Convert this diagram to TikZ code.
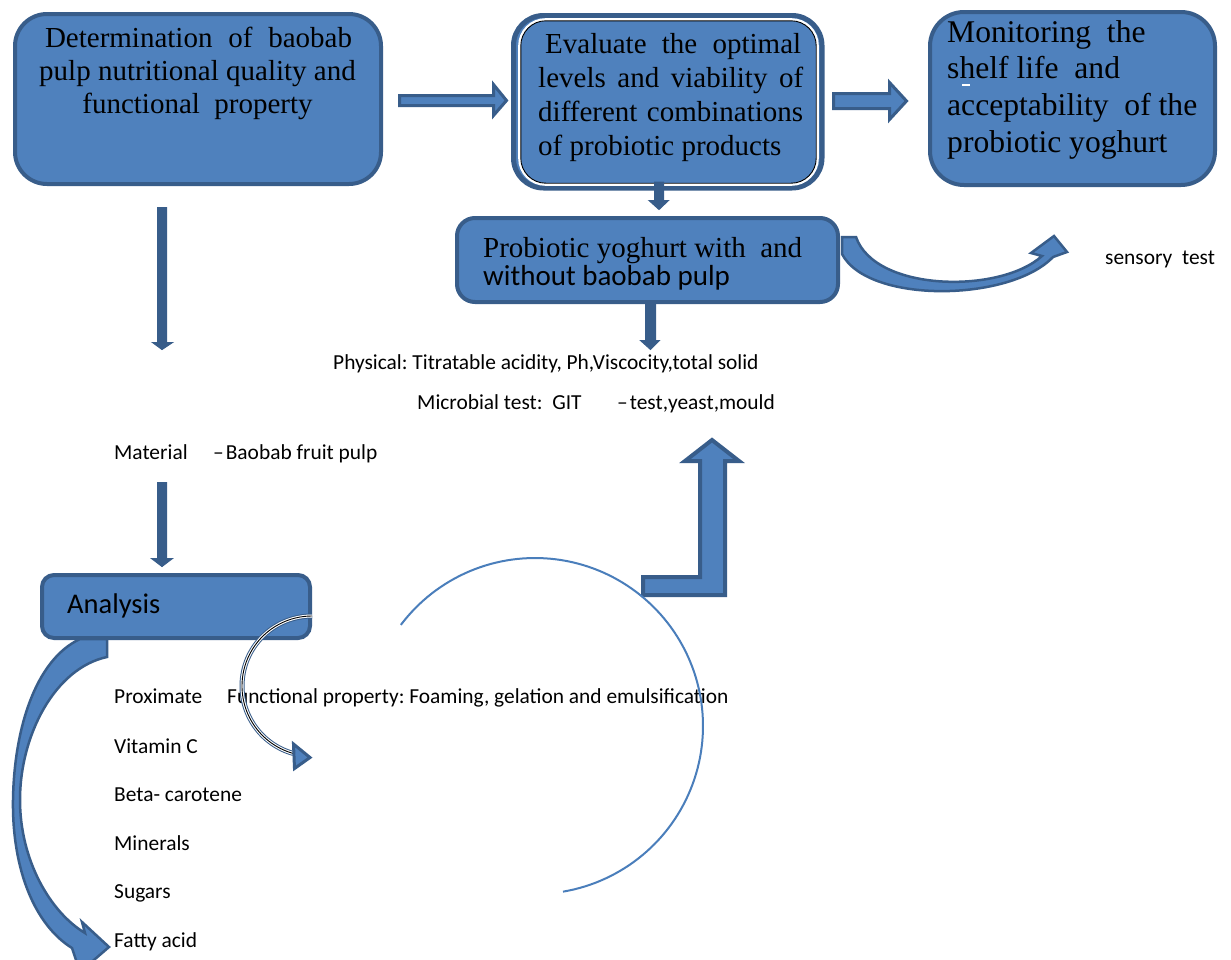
\documentclass[tikz,border=0pt]{standalone}
\usepackage{fontspec}
\setmainfont{Liberation Serif}
\newfontfamily\sansC{Carlito}
\newfontfamily\serifW{Liberation Serif}
\definecolor{pfill}{HTML}{4F81BD}
\definecolor{pline}{HTML}{385D8A}
\definecolor{arcblue}{HTML}{4A7EBB}
\tikzset{
  box/.style={draw=pline, fill=pfill, line width=4pt, rounded corners=#1, inner sep=0pt},
  box/.default=30pt,
  barrow/.style={draw=pline, fill=pfill, line width=3pt, line join=miter},
  darrow/.style={draw=pline, fill=pline, line width=1pt, line join=miter},
  small/.style={font=\sansC\fontsize{21.4}{25}\selectfont\frenchspacing, anchor=base west, inner sep=0pt},
  big/.style={font=\serifW\fontsize{29}{33}\selectfont, inner sep=0pt},
  bigger/.style={font=\serifW\fontsize{31.6}{37}\selectfont, inner sep=0pt, anchor=base west},
}
\begin{document}
\begin{tikzpicture}[x=1pt,y=-1pt]
\useasboundingbox[fill=white] (0,0) rectangle (1231,959);

% ---------- boxes ----------
\node[box=32pt, minimum width=366pt, minimum height=170pt] (b1) at (198,99) {};
\node[box=30pt, minimum width=308.5pt, minimum height=172.5pt, line width=5pt] (b2) at (667.75,101.75) {};
\draw[white, line width=2.6pt, rounded corners=26pt] (519.5,19.5) rectangle (817.5,184.5);
\draw[black, line width=0.9pt, rounded corners=25pt] (520.8,20.8) rectangle (816.2,183.2);
\node[box=34pt, minimum width=285pt, minimum height=173pt] (b3) at (1072.5,98.5) {};
\node[box=18pt, minimum width=381pt, minimum height=84pt] (b4) at (647.5,260) {};
\node[box=12pt, minimum width=268pt, minimum height=63pt] (an) at (176,606.5) {};

% ---------- box texts ----------
\node[big, anchor=base] (t1a) at (198.5,47) {\makebox[307pt][s]{Determination of baobab}};
\node[big, anchor=base] (t1b) at (197.5,80) {pulp nutritional quality and};
\node[big, anchor=base] (t1c) at (197.5,113) {functional\ \ property};

\node[big, anchor=base west] (t2a) at (545,53) {\makebox[256pt][s]{Evaluate the optimal}};
\node[big, anchor=base west] (t2b) at (538,87) {\makebox[265pt][s]{levels and viability of}};
\node[big, anchor=base west] (t2c) at (538,121) {\makebox[265pt][s]{different combinations}};
\node[big, anchor=base west] (t2d) at (538,155) {of probiotic products};

\node[bigger] (t3a) at (947,42) {Monitoring\ \ the};
\node[bigger] (t3b) at (947,78) {shelf life\ \ and};
\node[bigger] (t3c) at (947,115) {acceptability\ \ of the};
\node[bigger] (t3d) at (947,152) {probiotic yoghurt};
\draw[white, line width=1.2pt] (962,85) -- (970,85);

\node[big, anchor=base west] (t4a) at (483,257) {Probiotic yoghurt with\ \ and};
\node[font=\sansC\fontsize{29}{33}\selectfont, inner sep=0pt, anchor=base west] (t4b) at (483,285) {without baobab pulp};

\node[font=\sansC\fontsize{28.5}{33}\selectfont, inner sep=0pt, anchor=base west] (ant) at (67,613) {Analysis};

% ---------- plain texts ----------
\node[small] (phys) at (333,369) {Physical: Titratable acidity, Ph,Viscocity,total solid};
\node[small] (micA) at (417,409) {Microbial test:\ \ GIT};
\node[small] (micB) at (617,409) {–\hspace{2pt}test,yeast,mould};
\node[small] (matA) at (114,459) {Material};
\node[small] (matB) at (213,459) {–\hspace{2pt}Baobab fruit pulp};
\node[small] (prox) at (114,703) {Proximate};
\node[small] (func) at (227,703) {Functional property: Foaming, gelation and emulsification};
\node[small] (vitc) at (114,753) {Vitamin C};
\node[small] (beta) at (114,801) {Beta- carotene};
\node[small] (mine) at (114,850) {Minerals};
\node[small] (suga) at (114,898) {Sugars};
\node[small] (fatt) at (114,947) {Fatty acid};
\node[small] (sens) at (1105,264) {sensory\ \ test};

% ---------- block arrows ----------
\draw[barrow] (399.5,95.5) -- (493.5,95.5) -- (493.5,84.5) -- (506.5,100.5) -- (493.5,115.5) -- (493.5,105.5) -- (399.5,105.5) -- cycle;
\draw[barrow] (833.5,93.5) -- (889.5,93.5) -- (889.5,82.5) -- (906.5,101) -- (889.5,119.5) -- (889.5,108.5) -- (833.5,108.5) -- cycle;
\draw[darrow] (654.5,182) -- (663.5,182) -- (663.5,200.5) -- (668.5,200.5) -- (659,209.5) -- (649,200.5) -- (654.5,200.5) -- cycle;
\draw[darrow] (157.5,207.5) -- (166.5,207.5) -- (166.5,342.5) -- (172.5,342.5) -- (162,349.5) -- (152.5,342.5) -- (157.5,342.5) -- cycle;
\draw[darrow] (157.5,482.5) -- (166.5,482.5) -- (166.5,558.5) -- (172.5,558.5) -- (162,566.5) -- (151.5,558.5) -- (157.5,558.5) -- cycle;
\draw[darrow] (645.5,302) -- (655.5,302) -- (655.5,340.5) -- (659.5,340.5) -- (650.5,349.5) -- (640.5,340.5) -- (645.5,340.5) -- cycle;

% bent up arrow
\draw[barrow, line width=4pt] (643,577) -- (700,577) -- (700,461) -- (685,461) -- (712,440) -- (739,461) -- (725,461) -- (725,595) -- (643,595) -- cycle;

% curved arrow to sensory test
\draw[barrow, line width=2.5pt] (842,237) -- (856,237) .. controls (875,292) and (1000,294) .. (1042,256) -- (1031,253) -- (1054,236) -- (1067,252) -- (1053,257) .. controls (1010,302) and (868,304) .. (842,254) -- cycle;

% curved arrow from Analysis down to Fatty acid
\draw[barrow, line width=2.5pt] (80,639) -- (107,639) -- (107,657) .. controls (55,668) and (20,735) .. (20,800) .. controls (20,860) and (50,912) .. (85,933) -- (82,922) -- (109,947) -- (80,972) -- (72,948) .. controls (35,925) and (12,870) .. (13,800) .. controls (14,730) and (35,660) .. (80,639) -- cycle;

% double-line curved arrow from Analysis
\draw[pline, line width=5pt] plot[domain=270:105.7, samples=60] ({312+70*cos(\x)},{686+70*sin(\x)});
\draw[white, line width=3pt] plot[domain=270:105.7, samples=60] ({312+70*cos(\x)},{686+70*sin(\x)});
\draw[black, line width=0.9pt] plot[domain=270:105.7, samples=60] ({312+70*cos(\x)},{686+70*sin(\x)});
\draw[barrow, line width=3pt] (293.5,744) -- (310,757.5) -- (294.5,768.5) -- cycle;

% big thin arc
\draw[arcblue, line width=2pt] plot[domain=217:440.4, samples=120] ({535+168*cos(\x)},{726+168*sin(\x)});
\end{tikzpicture}
\end{document}
